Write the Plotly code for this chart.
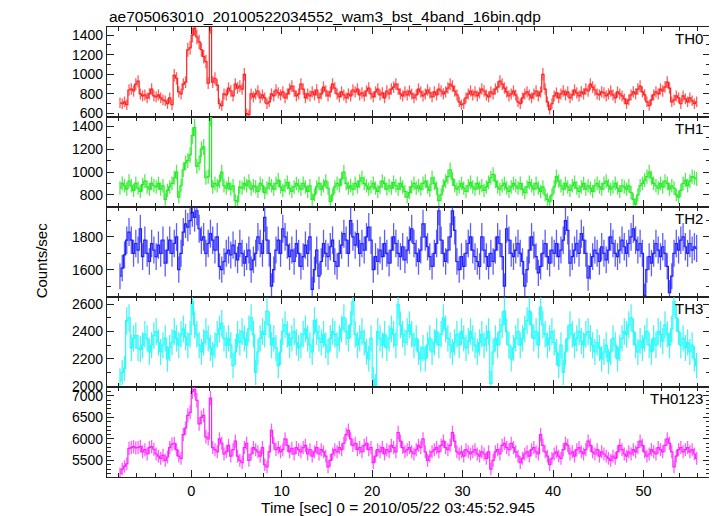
import numpy as np
import plotly.graph_objects as go
from plotly.subplots import make_subplots

# ---- data: 0.25 s bins starting at t = -8 s (counts/sec) ----
t_start = -8.0
bin_size = 0.25

th0 = [
    710, 700, 720, 690, 840, 850, 830, 900, 930, 800, 780, 790, 760, 800, 850, 780,
    770, 790, 760, 740, 730, 700, 760, 690, 990, 960, 820, 800, 900, 920, 1250, 1270,
    1400, 1470, 1380, 1330, 1250, 1180, 1130, 910, 1490, 920, 960, 890, 700, 680, 800, 790,
    860, 830, 780, 900, 860, 880, 850, 1000, 600, 590, 800, 770, 800, 830, 760, 790,
    760, 700, 720, 800, 780, 840, 810, 790, 820, 760, 800, 850, 880, 830, 780, 800,
    900, 850, 760, 800, 780, 820, 790, 840, 760, 800, 870, 830, 780, 820, 900, 860,
    800, 770, 820, 790, 760, 800, 780, 840, 820, 850, 790, 810, 780, 830, 860, 800,
    770, 820, 850, 790, 810, 760, 830, 800, 850, 870, 900, 850, 800, 780, 820, 790,
    830, 800, 760, 790, 850, 820, 780, 800, 840, 810, 770, 820, 790, 850, 830, 800,
    820, 860, 900, 880, 830, 790, 720, 690, 700, 760, 800, 830, 790, 820, 780, 810,
    850, 830, 790, 770, 820, 800, 850, 870, 930, 900, 860, 820, 780, 800, 830, 790,
    720, 700, 760, 800, 820, 790, 760, 800, 830, 780, 820, 1000, 850, 720, 640, 700,
    780, 810, 760, 800, 830, 790, 820, 760, 790, 840, 810, 780, 820, 800, 850, 830,
    900, 870, 840, 800, 790, 820, 810, 780, 800, 830, 790, 760, 820, 800, 780, 750,
    700, 740, 790, 820, 800, 850, 880, 820, 790, 720, 680, 740, 790, 820, 800, 850,
    830, 870, 920, 860, 720, 740, 780, 760, 700, 780, 750, 720, 760, 730, 700, 720,
]

th1 = [
    860, 900, 880, 850, 920, 880, 840, 900, 860, 830, 890, 920, 870, 850, 900, 880,
    870, 900, 850, 880, 760, 840, 870, 900, 950, 1000, 780, 880, 1020, 1080, 1100, 1150,
    1320, 1390, 1050, 1080, 1200, 1220, 950, 960, 1480, 870, 900, 880, 920, 1000, 880, 860,
    900, 850, 880, 750, 740, 870, 860, 900, 880, 920, 850, 880, 870, 830, 900, 880,
    820, 860, 900, 880, 850, 900, 930, 870, 840, 880, 910, 860, 830, 870, 900, 880,
    850, 900, 870, 830, 880, 760, 800, 870, 900, 850, 880, 920, 860, 740, 800, 870,
    900, 880, 940, 1000, 900, 860, 880, 850, 900, 870, 920, 950, 900, 880, 850, 870,
    900, 860, 830, 870, 920, 900, 850, 880, 860, 910, 880, 850, 900, 870, 830, 780,
    820, 870, 900, 860, 880, 850, 900, 920, 870, 840, 950, 900, 860, 750, 800, 880,
    920, 960, 1020, 940, 880, 850, 870, 900, 860, 830, 880, 910, 870, 850, 900, 860,
    880, 840, 870, 910, 950, 980, 920, 870, 850, 880, 900, 860, 830, 870, 900, 880,
    860, 900, 850, 820, 870, 910, 880, 850, 900, 860, 830, 870, 800, 760, 740, 800,
    870, 960, 920, 880, 850, 900, 870, 840, 880, 910, 860, 830, 870, 900, 850, 880,
    860, 830, 880, 900, 870, 850, 900, 920, 880, 850, 870, 900, 860, 830, 880, 870,
    850, 880, 820, 760, 720, 800, 880, 900, 930, 960, 1000, 950, 900, 880, 860, 900,
    870, 920, 900, 850, 880, 860, 800, 780, 840, 900, 930, 880, 920, 960, 950, 940,
]

th2 = [
    1560, 1610, 1690, 1780, 1830, 1780, 1700, 1760, 1720, 1850, 1680, 1780, 1700, 1650, 1760, 1720,
    1680, 1750, 1700, 1780, 1640, 1720, 1780, 1700, 1760, 1800, 1600, 1700, 1830, 1880, 1860, 1900,
    1950, 1920, 1960, 1850, 1780, 1800, 1700, 1760, 1820, 1780, 1720, 1800, 1620, 1600, 1650, 1700,
    1720, 1690, 1750, 1700, 1660, 1760, 1700, 1640, 1680, 1720, 1600, 1660, 1700, 1800, 1760, 1700,
    1920, 1780, 1700, 1500, 1600, 1720, 1780, 1700, 1850, 1800, 1750, 1680, 1720, 1650, 1760, 1700,
    1620, 1680, 1750, 1700, 1800, 1480, 1600, 1720, 1560, 1650, 1760, 1700, 1680, 1740, 1780, 1650,
    1620, 1700, 1750, 1820, 1780, 1700, 1900, 1800, 1750, 1820, 1700, 1760, 1720, 1800, 1860, 1780,
    1600, 1680, 1650, 1720, 1680, 1760, 1700, 1640, 1720, 1800, 1760, 1700, 1680, 1740, 1660, 1720,
    1780, 1850, 1760, 1700, 1650, 1720, 1880, 1800, 1740, 1680, 1620, 1700, 1760, 1960, 1780, 1700,
    1650, 1720, 1800, 1960, 1840, 1650, 1600, 1680, 1620, 1700, 1760, 1800, 1720, 1680, 1650, 1620,
    1800, 1720, 1680, 1620, 1700, 1650, 1720, 1800, 1760, 1680, 1500, 1850, 1780, 1700, 1680, 1720,
    1760, 1700, 1650, 1500, 1600, 1720, 1800, 1750, 1680, 1580, 1620, 1700, 1760, 1680, 1640, 1720,
    1700, 1760, 1680, 1720, 1780, 1900, 1840, 1640, 1680, 1720, 1760, 1700, 1820, 1780, 1700, 1550,
    1620, 1680, 1720, 1700, 1650, 1740, 1700, 1660, 1720, 1800, 1760, 1700, 1680, 1720, 1780, 1740,
    1700, 1760, 1800, 1850, 1780, 1720, 1760, 1700, 1440, 1600, 1680, 1640, 1700, 1760, 1720, 1680,
    1740, 1700, 1620, 1460, 1560, 1700, 1760, 1720, 1780, 1800, 1740, 1700, 1760, 1720, 1740, 1730,
]

th3 = [
    2040, 2100, 2130, 2480, 2500, 2280, 2350, 2370, 2280, 2270, 2300, 2380, 2350, 2250, 2300, 2370,
    2400, 2320, 2250, 2300, 2350, 2200, 2280, 2320, 2400, 2350, 2300, 2380, 2420, 2360, 2300, 2380,
    2620, 2450, 2380, 2300, 2250, 2320, 2400, 2350, 2280, 2230, 2300, 2380, 2420, 2460, 2350, 2300,
    2350, 2300, 2150, 2250, 2380, 2320, 2400, 2350, 2300, 2420, 2500, 2380, 2100, 2250, 2350, 2400,
    2380, 2550, 2450, 2300, 2350, 2280, 2150, 2250, 2400, 2450, 2380, 2300, 2350, 2400, 2320, 2280,
    2300, 2380, 2420, 2350, 2300, 2250, 2480, 2400, 2350, 2320, 2380, 2300, 2250, 2350, 2400, 2380,
    2300, 2350, 2420, 2500, 2400, 2350, 2450, 2620, 2380, 2300, 2350, 2400, 2320, 2250, 2200, 2350,
    2050, 2000, 2400, 2350, 2300, 2380, 2280, 2350, 2420, 2380, 2300, 2600, 2450, 2380, 2320, 2400,
    2450, 2380, 2300, 2350, 2250, 2200, 2280, 2200, 2300, 2350, 2250, 2320, 2400, 2300, 2380, 2500,
    2420, 2350, 2300, 2250, 2320, 2380, 2300, 2400, 2350, 2280, 2330, 2400, 2350, 2300, 2250, 2320,
    2380, 2300, 2350, 2400, 2020, 2250, 2350, 2300, 2400, 2450, 2550, 2400, 2300, 2200, 2280, 2350,
    2400, 2300, 2350, 2420, 2480, 2550, 2450, 2350, 2400, 2300, 2580, 2450, 2380, 2300, 2350, 2400,
    2320, 2250, 2150, 2300, 2100, 2250, 2350, 2450, 2380, 2300, 2350, 2400, 2330, 2300, 2380, 2400,
    2350, 2300, 2250, 2320, 2280, 2200, 2250, 2300, 2180, 2250, 2350, 2300, 2200, 2280, 2350, 2400,
    2380, 2450, 2500, 2400, 2300, 2250, 2330, 2280, 2350, 2400, 2300, 2250, 2350, 2300, 2400, 2380,
    2330, 2450, 2380, 2300, 2420, 2620, 2500, 2400, 2300, 2350, 2280, 2320, 2250, 2300, 2200, 2150,
]

th0123 = [
    5190, 5300, 5360, 5420, 5780, 5800, 5820, 5790, 5800, 5830, 5700, 5750, 5650, 5800, 5820, 5760,
    5650, 5600, 5550, 5620, 5500, 5580, 5800, 5880, 5900, 5750, 5600, 5550, 6100, 6250, 6550, 6620,
    7100, 7150, 6900, 6350, 6500, 6550, 6050, 6000, 6950, 5800, 5750, 5700, 6000, 5900, 5650, 5700,
    5850, 5600, 5750, 5950, 5600, 5500, 5450, 5800, 5900, 5500, 5650, 5800, 5750, 5700, 5600, 5800,
    5400, 5350, 5700, 6200, 5900, 5750, 5800, 5700, 5750, 6000, 5850, 5700, 5780, 5650, 5800, 5750,
    5700, 5800, 5850, 5650, 5750, 5600, 5700, 5800, 5650, 5750, 5700, 5600, 5350, 5500, 5650, 5750,
    5700, 5800, 5750, 5900, 6100, 6200, 6000, 5850, 5900, 5750, 5800, 5700, 5850, 5900, 5750, 5800,
    5450, 5600, 5750, 5700, 5800, 5650, 5750, 5700, 5850, 5800, 5700, 6150, 5950, 5800, 5700, 5750,
    5800, 5700, 5650, 5750, 5850, 5800, 6000, 5700, 5500, 5600, 5700, 5750, 5800, 5700, 5850, 5950,
    5800, 5750, 5850, 6150, 5950, 5700, 5650, 5700, 5600, 5750, 5700, 5650, 5700, 5750, 5650, 5600,
    5700, 5650, 5550, 5700, 5300, 5500, 5700, 5750, 5650, 5850, 5900, 5800, 5750, 5900, 5800, 5700,
    5600, 5450, 5550, 5650, 5700, 5600, 5750, 5800, 5700, 5650, 6100, 5850, 5700, 5600, 5400, 5550,
    5650, 5700, 5600, 5550, 5750, 5900, 5850, 5650, 5700, 5600, 5750, 5800, 5700, 5650, 5750, 5950,
    5850, 5700, 5650, 5750, 5600, 5700, 5650, 5600, 5550, 5500, 5600, 5550, 5700, 5850, 5750, 5650,
    5600, 5700, 5650, 5750, 5700, 5800, 5950, 5850, 5700, 5600, 5650, 5750, 5700, 5650, 5800, 5750,
    5700, 5850, 6000, 5900, 5700, 5350, 5600, 5750, 5800, 5700, 5750, 5800, 5700, 5750, 5650, 5550,
]

band_names = ["TH0", "TH1", "TH2", "TH3", "TH0123"]
band_values = [th0, th1, th2, th3, th0123]

title_text = "ae705063010_20100522034552_wam3_bst_4band_16bin.qdp"
x_title = "Time [sec] 0 = 2010/05/22 03:45:52.945"
y_title = "Counts/sec"

# ---- styling ----
colors = ["#ff2020", "#20ee20", "#2020ff", "#20ffff", "#ff20ff"]
err_colors = ["rgba(255,40,40,0.75)", "rgba(30,230,30,0.75)", "rgba(40,40,255,0.75)",
              "rgba(30,240,240,0.8)", "rgba(255,40,255,0.75)"]
y_ranges = [[565, 1482], [694, 1482], [1433, 1983], [1993, 2654], [5115, 7208]]
y_dticks = [200, 200, 200, 200, 500]
x_range = [-9.31, 57.35]
FONT = "Liberation Sans, Arial, Helvetica, sans-serif"

fig = make_subplots(rows=5, cols=1, shared_xaxes=True, vertical_spacing=0)

for i, (name, vals) in enumerate(zip(band_names, band_values)):
    v = np.array(vals, dtype=float)
    t = t_start + bin_size * (np.arange(len(v)) + 0.5)
    err = np.sqrt(v * bin_size) / bin_size
    fig.add_trace(go.Scatter(
        x=t, y=v, mode="lines", name=name,
        line=dict(color=colors[i], width=1.2, shape="hvh"),
        error_y=dict(type="data", array=err, visible=True, thickness=1.3,
                     width=0, color=err_colors[i]),
        showlegend=False, hoverinfo="skip"), row=i + 1, col=1)

for i in range(5):
    r = i + 1
    fig.update_xaxes(
        range=x_range, showline=True, linecolor="#222", linewidth=1.2, mirror="allticks",
        ticks="inside", ticklen=7, tickwidth=1, tickcolor="#222",
        tickmode="linear", tick0=0, dtick=10,
        minor=dict(dtick=2, ticks="inside", ticklen=4, tickcolor="#222", tickwidth=1),
        showgrid=False, zeroline=False, showticklabels=(r == 5),
        tickfont=dict(family=FONT, size=14.5, color="black"),
        row=r, col=1)
    fig.update_yaxes(
        range=y_ranges[i], showline=True, linecolor="#222", linewidth=1.2, mirror="allticks",
        ticks="inside", ticklen=7, tickwidth=1, tickcolor="#222",
        tickmode="linear", tick0=0, dtick=y_dticks[i],
        minor=dict(dtick=100, ticks="inside", ticklen=4, tickcolor="#222", tickwidth=1),
        showgrid=False, zeroline=False,
        tickfont=dict(family=FONT, size=14, color="black"),
        row=r, col=1)

annotations = []
for i, name in enumerate(band_names):
    annotations.append(dict(
        text=name, xref="paper", x=1, xanchor="right", xshift=-5,
        yref=("y domain" if i == 0 else f"y{i+1} domain"), y=1, yanchor="top", yshift=-1,
        showarrow=False, font=dict(family=FONT, size=15, color="black")))
annotations.append(dict(
    text=title_text, xref="paper", x=0, xanchor="left", yref="paper", y=1,
    yanchor="bottom", yshift=0, showarrow=False,
    font=dict(family=FONT, size=15.5, color="black")))
annotations.append(dict(
    text=x_title, xref="paper", x=0.482, xanchor="center", yref="paper", y=0,
    yanchor="middle", yshift=-30, showarrow=False,
    font=dict(family=FONT, size=15.5, color="black")))
annotations.append(dict(
    text=y_title, xref="paper", x=-0.109, xanchor="center", yref="paper", y=0.482,
    yanchor="middle", textangle=-90, showarrow=False,
    font=dict(family=FONT, size=15, color="black")))

# page body has an 8px margin, so the figure is 8px smaller than the window
fig.update_layout(
    width=709, height=508,
    margin=dict(l=99, r=7, t=19, b=39),
    paper_bgcolor="white", plot_bgcolor="white",
    font=dict(family=FONT, size=15, color="black"),
    annotations=annotations,
)

fig.write_html("out.html")
